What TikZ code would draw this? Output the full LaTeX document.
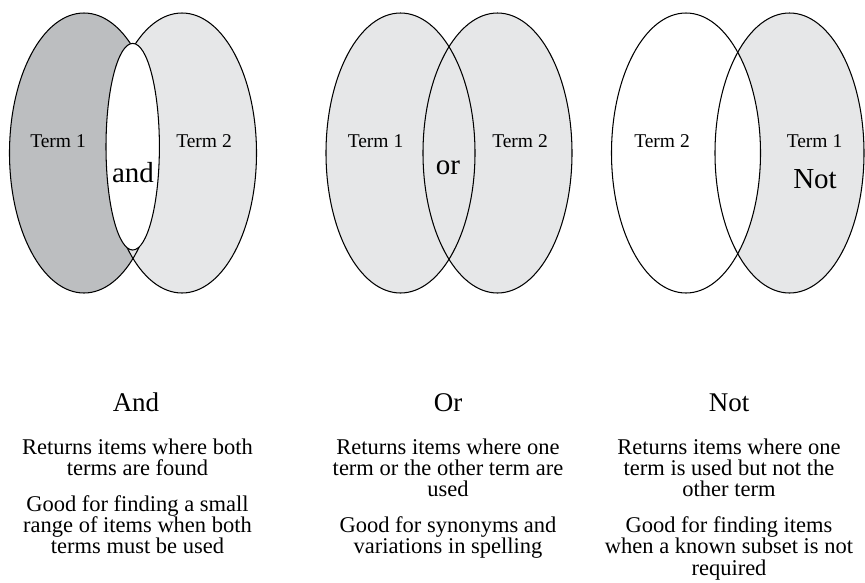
\documentclass[tikz,border=0pt]{standalone}
\usepackage{fontspec}
\setmainfont{Liberation Serif}
\definecolor{shadedark}{RGB}{188,190,192}
\definecolor{shadelight}{RGB}{230,231,232}
\begin{document}
\begin{tikzpicture}[x=1pt,y=-1pt,
  ring/.style={draw=black,line width=1.05pt},
  termlabel/.style={font=\fontsize{19.5}{22}\selectfont,anchor=base,inner sep=0pt},
  oplabel/.style={font=\fontsize{29}{32}\selectfont,anchor=base,inner sep=0pt},
  heading/.style={font=\fontsize{27}{30}\selectfont,anchor=base,inner sep=0pt},
  % multi-line captions are anchored at the baseline of their last line
  desc/.style={font=\fontsize{22.5}{21.4}\selectfont,align=center,anchor=base,inner sep=0pt},
  big/.style={x radius=74.5pt,y radius=140pt}]
\useasboundingbox (0,0) rectangle (865,582);

% AND: both terms, overlap only
\fill[shadedark]  (84,153) ellipse [big];
\fill[shadelight] (182,153) ellipse [big];
\draw[ring] (84,153) ellipse [big];
\draw[ring] (182,153) ellipse [big];
\filldraw[ring,fill=white] (132.7,146.7) ellipse [x radius=26.7pt,y radius=103.3pt];
\node[termlabel] (andT1) at (58,147) {Term 1};
\node[termlabel] (andT2) at (204,147) {Term 2};
\node[oplabel] (andOp) at (133,182) {and};

% OR: either term
\fill[shadelight] (400.5,153) ellipse [big];
\fill[shadelight] (497.5,153) ellipse [big];
\draw[ring] (400.5,153) ellipse [big];
\draw[ring] (497.5,153) ellipse [big];
\node[termlabel] (orT1) at (375.5,147) {Term 1};
\node[termlabel] (orT2) at (520,147) {Term 2};
\node[oplabel] (orOp) at (448,174) {or};

% NOT: term 1 without term 2
\fill[shadelight] (789.5,153) ellipse [big];
\fill[white] (686,153) ellipse [big];
\draw[ring] (686,153) ellipse [big];
\draw[ring] (789.5,153) ellipse [big];
\node[termlabel] (notT2) at (662,147) {Term 2};
\node[termlabel] (notT1) at (814.5,147) {Term 1};
\node[oplabel] (notOp) at (815,188) {Not};

% captions
\node[heading] (hAnd) at (136,411.7) {And};
\node[heading] (hOr)  at (448,411.7) {Or};
\node[heading] (hNot) at (729,411.7) {Not};

\node[desc] (andA) at (137.5,475.4) {Returns items where both\\terms are found};
\node[desc] (andB) at (137.5,553.8) {Good for finding a small\\range of items when both\\terms must be used};

\node[desc] (orA) at (448,496.8) {Returns items where one\\term or the other term are\\used};
\node[desc] (orB) at (448,553.9) {Good for synonyms and\\variations in spelling};

\node[desc] (notA) at (729,496.8) {Returns items where one\\term is used but not the\\other term};
\node[desc] (notB) at (729,575.3) {Good for finding items\\when a known subset is not\\required};
\end{tikzpicture}
\end{document}
